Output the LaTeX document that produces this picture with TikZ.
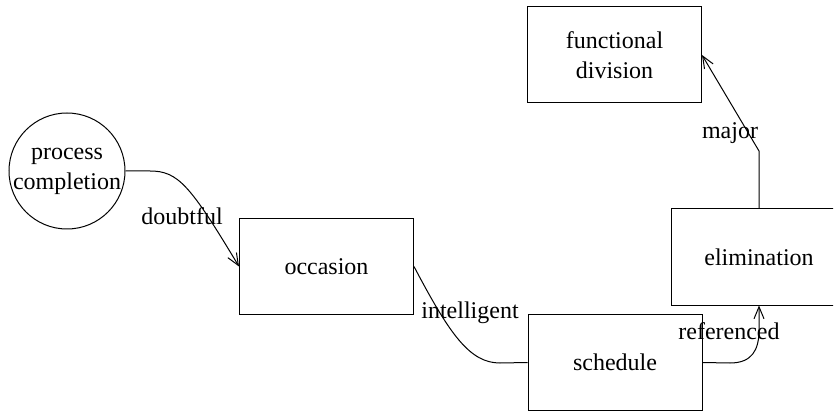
\documentclass[tikz,border=0pt]{standalone}
\usepackage{fontspec}
\setmainfont{Liberation Serif}
\usetikzlibrary{arrows.meta}
\begin{document}
\begin{tikzpicture}[x=0.5pt,y=-0.5pt,
  font=\fontsize{12}{15}\selectfont,
  box/.style={draw,line width=0.5pt,rectangle,inner sep=0,minimum width=87pt,minimum height=48pt,align=center},
  ring/.style={draw,line width=0.5pt,circle,inner sep=0,minimum size=58pt},
  conn/.style={line width=0.5pt},
  arr/.style={conn,-{Straight Barb[length=6pt,width=5pt]}},
  lbl/.style={inner sep=0}]
\useasboundingbox (0,0) rectangle (835,411);
\node[ring,label={[align=center,inner sep=0]center:process\\completion}] (pc) at (67,171) {};
\node[box] (occ) at (326.5,266.5) {occasion};
\node[box] (sch) at (615,362.5) {schedule};
\node[box,draw=none] (eli) at (759,257) {elimination};
\begin{scope}
\clip (0,0) rectangle (833,411);
\draw[line width=0.5pt] (eli.north east) -- (eli.north west) -- (eli.south west) -- (eli.south east);
\end{scope}
\node[box] (fd) at (614.5,55) {functional\\division};
\coordinate (c1) at (150,171);
\coordinate (c2) at (500,363);
\coordinate (c3) at (730,363);
\coordinate (c4) at (759,330);
\coordinate (c5) at (759,151);
\draw[arr] (pc.east) -- (c1) .. controls (178,171) and (190,185) .. (occ.west);
\draw[conn] (occ.east) .. controls (450,335) and (470,363) .. (c2) -- (sch.west);
\draw[arr] (sch.east) -- (c3) .. controls (752,363) and (759,350) .. (c4) -- (eli.south);
\draw[arr] (eli.north) -- (c5) -- (fd.east);
\node[lbl] (l1) at (182,216) {doubtful};
\node[lbl] (l2) at (470,313) {intelligent};
\node[lbl] (l3) at (729,331) {referenced};
\node[lbl] (l4) at (730,133) {major};
\end{tikzpicture}
\end{document}
